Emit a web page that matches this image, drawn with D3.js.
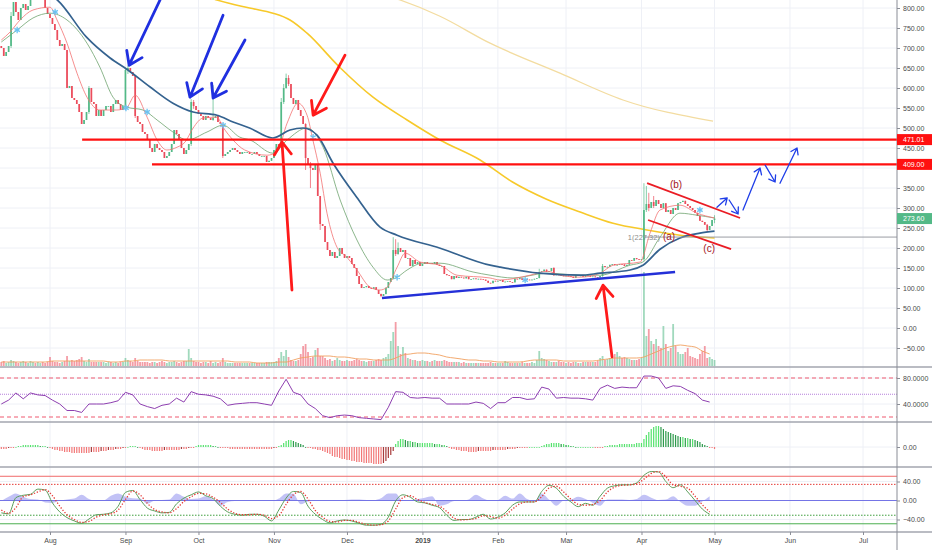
<!DOCTYPE html>
<html>
<head>
<meta charset="utf-8">
<script src="https://cdn.jsdelivr.net/npm/d3@7"></script>
<style>
body { margin: 0; background: #fff; }
svg { display: block; font-family: "Liberation Sans", Arial, sans-serif; }
</style>
</head>
<body>
<svg id="chart" width="932" height="550"></svg>
<script>
// daily closes, one per day from 12 Jul 2018 (day 0) to 1 May 2019 (day 293)
var closes = [
  700,680,690,705,780,815,790,770,800,810,795,805,840,850,820,830,830,825,800,785,
  775,760,745,720,705,710,695,600,605,575,570,560,540,510,520,540,600,565,560,530,545,530,545,555,555,540,560,570,560,545,555,
  645,650,640,630,530,515,510,490,485,470,450,440,460,450,445,440,425,430,440,460,495,485,470,450,435,445,460,565,555,545,
  535,530,520,530,525,520,525,530,515,510,430,435,440,445,450,445,440,435,440,440,440,435,435,440,435,430,430,430,415,418,425,
  445,460,455,565,600,625,610,575,560,570,545,530,510,425,410,400,395,410,330,260,255,215,195,180,190,175,180,200,185,175,
  180,175,160,150,130,110,100,102,105,100,98,102,95,85,80,85,100,115,125,195,185,200,190,195,175,175,155,170,160,165,155,
  160,165,160,162,160,165,158,155,155,135,132,130,122,130,125,128,126,124,128,122,122,124,122,123,122,121,118,113,112,118,117,
  118,120,115,116,117,115,114,123,122,125,120,122,121,120,121,123,125,140,142,146,140,142,150,132,135,132,131,130,
  131,130,128,125,132,131,131,128,132,131,128,129,127,126,130,155,152,153,158,160,157,158,160,159,155,158,170,168,175,172,170,
  172,295,310,300,315,305,320,310,300,312,290,295,285,300,295,312,315,318,310,305,300,295,288,280,268,265,258,245,255,270,
  273.6
];
var firstOpen = 705;

// notable wicks: [day, high, low]
var wicks = [
  [4,790,700],[13,860,830],[36,605,535],[51,650,545],[52,656,635],[55,632,525],[78,572,455],[79,570,548],
  [87,607,518],[91,512,425],[115,575,452],[116,610,560],[117,636,598],[118,632,605],[125,512,395],[127,415,350],
  [131,330,245],[156,86,77],[158,102,84],[161,227,122],[162,222,180],[163,214,183],[221,148,124],[227,152,130],
  [247,160,128],[264,362,168],[265,355,290],[266,338,292],[268,330,300],[290,260,240],[293,282,262]
];

// daily volume (arbitrary units)
var volume = [
  4,5,3,4,6,5,4,3,4,5,4,3,5,4,3,4,3,4,3,4,
  9,5,4,4,3,4,5,10,5,6,5,6,7,9,5,4,7,4,4,4,
  4,4,4,3,4,4,3,4,3,4,4,8,6,5,4,8,5,4,4,4,
  4,3,4,4,3,4,5,4,3,4,4,5,4,3,4,5,5,17,8,5,
  4,4,3,4,4,3,5,3,4,3,4,8,4,3,3,3,3,3,3,3,
  3,3,3,3,3,3,3,3,3,4,4,4,4,5,8,14,10,16,9,6,
  5,5,6,12,20,22,14,8,9,16,18,10,10,8,6,7,5,6,8,6,
  5,5,6,5,5,6,7,6,5,5,4,5,5,5,6,7,6,8,9,12,
  25,34,44,20,12,19,13,8,7,6,6,5,5,6,5,5,4,5,6,5,
  5,5,6,5,4,4,4,4,4,3,4,3,3,3,3,3,3,3,3,3,
  3,4,3,3,3,3,3,5,4,3,3,3,3,3,4,3,3,3,4,3,
  6,15,8,7,6,5,4,4,4,5,4,4,3,4,3,4,4,3,3,4,
  4,4,4,4,4,5,8,10,6,7,8,9,12,14,10,8,9,8,7,6,
  6,6,7,8,94,30,37,25,22,27,20,18,40,22,15,18,42,20,14,12,
  12,14,18,10,9,8,7,12,15,20,8,9,7,6
];

// daily MACD histogram
var macdHist = [
  -2,-2,-2,-1,-1,-1,0,1,
  1,2,2,2,2,2,2,2,1,1,1,0,
  -1,-2,-3,-3,-4,-4,-5,-5,-5,-6,-6,-6,-6,
  -6,-6,-6,-6,-5,-5,-5,
  -5,-4,-4,-4,-3,-3,-3,-2,-2,-2,-1,-1,
  0,1,1,1,0,
  -1,-2,-3,-3,-3,-4,-4,-4,-4,-4,-3,-3,-3,-3,-3,-3,-3,-2,-2,-2,-1,-1,-1,
  1,2,2,2,2,2,2,1,1,
  0,-1,-1,-1,-1,
  -2,-2,-2,-2,-2,-2,-2,-2,-2,-2,-2,-2,-2,-2,-2,-2,-2,-2,-1,-1,
  1,2,4,6,7,7,6,5,4,3,2,
  0,-1,-1,-2,-2,-3,-3,
  -4,-5,-6,-7,-9,-10,-10,-11,-12,-12,-13,-13,-14,-14,-15,-15,-15,-16,-16,-16,-16,-17,-17,-17,-17,-16,-14,-11,-8,-4,
  3,6,8,8,7,6,6,5,5,4,4,4,4,4,4,4,3,3,3,2,2,1,
  -1,-2,-2,-3,
  -3,-4,-4,-4,-5,-5,-5,-5,-4,-4,-4,-4,-4,-4,-3,-3,-3,-3,-3,-3,-2,-2,-2,-2,-1,-1,
  -1,-1,-1,0,0,0,0,0,
  1,2,3,3,4,4,4,4,3,3,2,2,1,1,
  0,0,0,0,0,0,0,0,
  -1,-1,-1,-1,
  1,1,2,2,2,2,3,3,3,3,3,3,3,4,4,
  4,8,12,15,18,20,21,21,20,
  18,16,15,14,13,
  12,11,10,10,9,9,8,8,
  7,6,5,3,2,1,
  -1,-1,-2
];

// indicators read every 3 days (sample k is day 3k)
var rsi = [
  40,46,57,48,57,54,53,46,40,30, 30,27,40,40,40,42,45,58,54,40,
  36,33,38,40,49,43,59,55,54,52, 48,38,40,41,42,42,40,38,60,78,
  58,54,40,33,22,19,22,23,22,19, 18,17,16,35,59,58,50,49,50,49,
  49,40,40,40,40,43,41,33,42,42, 50,50,47,48,66,63,49,50,49,49,
  48,46,64,69,64,66,65,65,83,83, 80,64,68,67,61,56,46,43
];
var oscMain = [
  -26,-28,6,11,13,24,22,-5,-24,-36, -43,-48,-39,-30,-29,-26,-12,17,21,2,
  -16,-22,-26,-25,-7,5,12,18,10,4, -12,-24,-29,-31,-29,-29,-33,-43,-20,5,
  19,17,-12,-29,-40,-47,-43,-41,-43,-48, -52,-52,-50,-35,-1,12,7,-3,-5,-10,
  -15,-31,-42,-40,-40,-35,-29,-39,-35,-26, -10,-3,-3,-3,19,32,26,9,-3,-13,
  -6,-10,9,26,31,33,33,37,53,61, 60,40,27,33,18,0,-18,-29
];
var oscSignal = [
  -20,-27,-15,8,12,18,23,10,-12,-30, -40,-46,-44,-35,-30,-28,-20,2,20,12,
  -6,-19,-24,-26,-17,-2,8,15,14,7, -4,-18,-27,-30,-30,-29,-31,-38,-32,-8,
  12,19,3,-21,-35,-44,-45,-42,-42,-46, -50,-52,-51,-43,-18,6,10,2,-4,-8,
  -12,-23,-37,-41,-40,-38,-32,-34,-37,-31, -18,-7,-3,-3,8,26,30,18,3,-8,
  -10,-8,0,18,28,32,33,35,45,57, 61,50,33,30,26,9,-9,-24
];
var oscWave = [
  -1,8,15,8,3,2,-4,-5,0,2, 4,12,3,-1,0,10,15,8,5,4,
  -7,0,1,2,15,8,3,4,9,2, -11,-3,-1,-1,0,-1,-1,-1,4,15,
  14,-8,-2,-1,-1,0,1,1,2,2, 1,1,5,15,15,-1,0,3,6,9,
  -11,-8,-1,-1,2,12,4,-1,1,10, 4,15,3,-1,15,2,-11,0,2,8,
  3,-5,-11,2,2,2,1,3,12,6, 1,2,9,-3,-11,-11,-2,9
];
var volAvg = [
  4,4,4,4,4,4,4,5,5,5, 5,5,5,5,5,4,4,5,5,6,
  6,6,6,5,5,5,5,5,5,5, 5,5,4,4,4,3,3,3,4,4,
  6,8,9,10,10,10,9,9,8,7, 7,6,6,6,8,11,12,13,13,12,
  11,9,8,7,6,6,5,5,4,4, 4,4,5,6,6,6,6,5,5,5,
  5,5,6,7,8,8,8,8,9,12, 15,18,20,21,20,19,15,12
];

// moving averages: [day, price]
var maFast = [[0,720],[3.6,740],[7.7,770],[13,795],[20,802],[22.9,770],[27,712],[31.1,637],[35.2,577],[40.5,545],
  [47.5,545],[51.6,552],[55,582],[59.9,527],[64,470],[68,445],[72.2,452],[75.5,465],[78.8,500],[82.9,525],[88.6,527],
  [91.1,502],[95.2,470],[100,445],[109.2,432],[113.3,440],[117.4,512],[121.9,562],[125.6,532],[128,470],[131,387],
  [133.8,287],[137.9,202],[142,177],[146.1,145],[151.5,102],[155.6,95],[158.5,102],[162.6,152],[165.9,187],[172,165],
  [180.2,157],[187.2,132],[200.8,125],[204.9,120],[217.2,132],[224.2,142],[229.5,132],[237.8,127],[246,137],[251.3,157],
  [262.4,165],[266.5,237],[270.6,295],[278.8,307],[285.8,287],[293,275]];
var maMid = [[0,715],[6.5,745],[13,775],[20,787],[27,770],[35.2,712],[40.5,652],[45.9,577],[51.6,552],[58.2,545],
  [64,520],[70.5,490],[76.3,470],[84.5,490],[91.1,507],[98,477],[102.2,470],[111.6,437],[117.4,470],[125.6,500],
  [132.2,452],[139.2,320],[146.1,220],[152.7,152],[158.5,120],[162.6,127],[166.7,145],[173.2,162],[180.2,162],
  [193.8,140],[200.8,132],[210.2,125],[224.2,137],[237.8,132],[246,132],[258.3,157],[263.6,165],[270.6,227],
  [278.8,287],[285.8,282],[293,275]];
var maSlow = [[0,880],[12,850],[23,820],[35,727],[44.7,675],[52,645],[61,603],[70.5,562],[78.8,540],[88.6,532],
  [95.2,515],[102,500],[111.6,475],[118.6,495],[124,500],[129.7,482],[136.3,412],[146,327],[155.6,252],[162.6,232],
  [180,200],[200.8,157],[205,152],[221,137],[237.8,132],[246,137],[258.3,145],[263.6,157],[270.6,197],[278.8,225],
  [287,237],[293,242]];
var ma200 = [[83.7,830],[88.6,820],[102,800],[111.6,787],[118.6,770],[125.6,737],[139,652],[152.7,577],[166.7,520],
  [180.2,470],[196.7,420],[210,365],[224,322],[237.8,290],[251.3,262],[265.3,245],[278.8,232],[293,225]];
var maLong = [[150,845],[163.8,820],[180,780],[200.8,712],[229.5,637],[255.4,570],[292.4,517]];
var crossMarks = [[6.5,745],[22.1,790],[51.2,550],[59.9,540],[91.1,507],[128.1,477],[162.6,127],[215.2,120],[287,295]];

// drawings: [day, price]
var blueArrows = [[[65.2,820],[52.5,657]],[[91.1,782],[77.5,577]],[[100.1,720],[87,575]]];
var redArrows = [[[119.4,95],[115.3,465]],[[141.2,682],[128.1,532]],[[250.9,-72],[247.2,107]]];
var levels = [{price: 471.01, from: 33.2}, {price: 409.00, from: 61.9}];
var supportLine = [[156.4,75],[276.8,140]];
var channelTop = [[265.3,362],[303.5,275]];
var channelBottom = [[265.7,270],[299.8,197]];
var pathArrows = [[[294,302],[298.2,325]],[[299,320],[302.7,285]],[[304.7,295],[311.7,400]],
  [[313.8,407],[317.9,365]],[[319.9,362],[326.9,450]]];
var waveLabels = [{t: "(b)", d: 277.2, p: 350}, {t: "(a)", d: 274.3, p: 220}, {t: "(c)", d: 290.8, p: 190}];
var measure = {price: 227.32, from: 264};

var priceTicks = d3.range(-50, 801, 50);
var priceLabels = priceTicks.filter(function(v) { return v !== 400; }); // 400 sits under the 409 tag
var lastPrice = 273.60;

// ---------- layout
var AX = 897;
var panels = {main: [0, 367], rsi: [367, 422], macd: [422, 467], osc: [467, 532]};
var DAY = 864e5, T0 = Date.UTC(2018, 6, 12);
function dt(d) { return new Date(T0 + d * DAY); }

var x = d3.scaleUtc()
  .domain([new Date(Date.UTC(2018, 7, 1)), new Date(Date.UTC(2019, 6, 1))])
  .range([50, 863]);
function xd(d) { return x(dt(d)); }
var y = d3.scaleLinear().domain([150, 800]).range([268, 8]);
var yVol = d3.scaleLinear().domain([0, 100]).range([366, 266]);
var yRsi = d3.scaleLinear().domain([40, 80]).range([404, 378]);
var yMacd = d3.scaleLinear().domain([-20, 20]).range([467, 427]);
var yOsc = d3.scaleLinear().domain([-40, 40]).range([519.5, 481.5]);

var svg = d3.select("#chart");
var defs = svg.append("defs");
Object.keys(panels).forEach(function(k) {
  defs.append("clipPath").attr("id", "clip-" + k)
    .append("rect").attr("x", 0).attr("y", panels[k][0])
    .attr("width", AX).attr("height", panels[k][1] - panels[k][0]);
});

// grid
var months = d3.utcMonth.range(new Date(Date.UTC(2018, 7, 1)), new Date(Date.UTC(2019, 6, 2)));
var grid = svg.append("g").attr("stroke", "#eef0f6").attr("stroke-width", 1);
grid.selectAll(".gv").data(months).enter().append("line")
  .attr("x1", function(d) { return x(d); }).attr("x2", function(d) { return x(d); })
  .attr("y1", 0).attr("y2", 532);
grid.selectAll(".gh").data(priceTicks).enter().append("line")
  .attr("x1", 0).attr("x2", AX)
  .attr("y1", function(d) { return y(d); }).attr("y2", function(d) { return y(d); });
[yRsi(40), yRsi(80), yMacd(0), yOsc(40), yOsc(-40)].forEach(function(v) {
  grid.append("line").attr("x1", 0).attr("x2", AX).attr("y1", v).attr("y2", v);
});

// ---------- main panel
var main = svg.append("g").attr("clip-path", "url(#clip-main)");
var up = "#53b987", down = "#eb4d5c";

var candles = closes.map(function(c, i) {
  var o = i ? closes[i - 1] : firstOpen;
  return {d: i, o: o, c: c, h: Math.max(o, c), l: Math.min(o, c), v: volume[i]};
});
wicks.forEach(function(w) {
  var k = candles[w[0]];
  k.h = Math.max(k.h, w[1]);
  k.l = Math.min(k.l, w[2]);
});

// volume
main.selectAll(".vol").data(candles).enter().append("rect")
  .attr("x", function(k) { return xd(k.d) - 0.9; })
  .attr("width", 1.8)
  .attr("y", function(k) { return yVol(k.v); })
  .attr("height", function(k) { return yVol(0) - yVol(k.v); })
  .attr("fill", function(k) { return k.c >= k.o ? up : down; })
  .attr("opacity", 0.55);
main.append("path").datum(volAvg)
  .attr("fill", "none").attr("stroke", "#f0a060").attr("stroke-width", 0.9)
  .attr("d", d3.line().x(function(v, k) { return xd(3 * k); }).y(function(v) { return yVol(v); }).curve(d3.curveMonotoneX));

// long averages
var maLine = d3.line().x(function(p) { return xd(p[0]); }).y(function(p) { return y(p[1]); }).curve(d3.curveMonotoneX);
main.append("path").datum(maLong).attr("fill", "none").attr("stroke", "#f3dca0").attr("stroke-width", 1.3).attr("d", maLine);
main.append("path").datum(ma200).attr("fill", "none").attr("stroke", "#f7c92a").attr("stroke-width", 1.6).attr("d", maLine);

// candles
main.selectAll(".wick").data(candles).enter().append("line")
  .attr("x1", function(k) { return xd(k.d); }).attr("x2", function(k) { return xd(k.d); })
  .attr("y1", function(k) { return y(k.h); }).attr("y2", function(k) { return y(k.l); })
  .attr("stroke", function(k) { return k.c >= k.o ? up : down; }).attr("stroke-width", 0.7);
main.selectAll(".body").data(candles).enter().append("rect")
  .attr("x", function(k) { return xd(k.d) - 0.85; })
  .attr("width", 1.7)
  .attr("y", function(k) { return y(Math.max(k.o, k.c)); })
  .attr("height", function(k) { return Math.max(0.8, Math.abs(y(k.o) - y(k.c))); })
  .attr("fill", function(k) { return k.c >= k.o ? up : down; });

main.append("path").datum(maMid).attr("fill", "none").attr("stroke", "#6fa36f").attr("stroke-width", 0.8).attr("d", maLine);
main.append("path").datum(maFast).attr("fill", "none").attr("stroke", "#f27272").attr("stroke-width", 0.8).attr("d", maLine);
main.append("path").datum(maSlow).attr("fill", "none").attr("stroke", "#34628f").attr("stroke-width", 1.7).attr("d", maLine);

main.selectAll(".star").data(crossMarks).enter().append("path")
  .attr("transform", function(p) { return "translate(" + xd(p[0]) + "," + y(p[1]) + ")"; })
  .attr("d", d3.symbol().type(d3.symbolAsterisk).size(28))
  .attr("fill", "none").attr("stroke", "#6cc3f2").attr("stroke-width", 1.3);

// drawings
function arrow(g, seg, color, width, head) {
  var x1 = xd(seg[0][0]), y1 = y(seg[0][1]), x2 = xd(seg[1][0]), y2 = y(seg[1][1]);
  var a = Math.atan2(y1 - y2, x1 - x2);
  var path = d3.path();
  path.moveTo(x1, y1); path.lineTo(x2, y2);
  path.moveTo(x2 + head * Math.cos(a - 0.6), y2 + head * Math.sin(a - 0.6));
  path.lineTo(x2, y2);
  path.lineTo(x2 + head * Math.cos(a + 0.6), y2 + head * Math.sin(a + 0.6));
  g.append("path").attr("d", path.toString()).attr("fill", "none")
    .attr("stroke", color).attr("stroke-width", width)
    .attr("stroke-linecap", "round").attr("stroke-linejoin", "round");
}
var draw = svg.append("g").attr("clip-path", "url(#clip-main)");
levels.forEach(function(l) {
  draw.append("line").attr("x1", xd(l.from)).attr("x2", AX)
    .attr("y1", y(l.price)).attr("y2", y(l.price))
    .attr("stroke", "#ff1010").attr("stroke-width", 2.4);
});
draw.append("line").attr("x1", xd(measure.from)).attr("x2", AX)
  .attr("y1", y(measure.price)).attr("y2", y(measure.price))
  .attr("stroke", "#9a9ca3").attr("stroke-width", 1);
draw.append("text").attr("x", xd(measure.from) + 16).attr("y", y(measure.price) + 3)
  .attr("text-anchor", "end").attr("font-size", 7.5).attr("fill", "#8c8c8c").text("1(227.32)");

[supportLine].forEach(function(s) {
  draw.append("line").attr("x1", xd(s[0][0])).attr("y1", y(s[0][1]))
    .attr("x2", xd(s[1][0])).attr("y2", y(s[1][1]))
    .attr("stroke", "#2430d8").attr("stroke-width", 2.4);
});
[channelTop, channelBottom].forEach(function(s) {
  draw.append("line").attr("x1", xd(s[0][0])).attr("y1", y(s[0][1]))
    .attr("x2", xd(s[1][0])).attr("y2", y(s[1][1]))
    .attr("stroke", "#ea1c24").attr("stroke-width", 1.8);
});
waveLabels.forEach(function(l) {
  draw.append("text").attr("x", xd(l.d)).attr("y", y(l.p))
    .attr("text-anchor", "middle").attr("font-size", 10).attr("fill", "#a3141c").text(l.t);
});
blueArrows.forEach(function(s) { arrow(draw, s, "#1f2fe0", 2.8, 15); });
redArrows.forEach(function(s) { arrow(draw, s, "#ff1a1a", 2.8, 15); });
pathArrows.forEach(function(s) { arrow(draw, s, "#1f3ee8", 1.3, 7); });

// ---------- RSI
var rsiG = svg.append("g").attr("clip-path", "url(#clip-rsi)");
[[80, "4,3", "#ef5b70", 1.2], [20, "4,3", "#ef5b70", 1.2], [55, "1,1", "#b67fdc", 1.2]].forEach(function(l) {
  rsiG.append("line").attr("x1", 0).attr("x2", AX).attr("y1", yRsi(l[0])).attr("y2", yRsi(l[0]))
    .attr("stroke", l[2]).attr("stroke-width", l[3]).attr("stroke-dasharray", l[1]);
});
rsiG.append("path").datum(rsi).attr("fill", "none").attr("stroke", "#8e3fb0").attr("stroke-width", 1)
  .attr("d", d3.line().x(function(v, k) { return xd(3 * k); }).y(function(v) { return yRsi(v); }));

// ---------- MACD histogram
var macdG = svg.append("g").attr("clip-path", "url(#clip-macd)");
macdG.selectAll(".mh").data(macdHist).enter().append("rect")
  .attr("x", function(v, i) { return xd(i) - 0.6; })
  .attr("width", 1.2)
  .attr("y", function(v) { return Math.min(yMacd(v), yMacd(0)); })
  .attr("height", function(v) { return Math.max(0.8, Math.abs(yMacd(v) - yMacd(0))); })
  .attr("fill", function(v, i) {
    var prev = i ? macdHist[i - 1] : v;
    if (v >= 0) return v >= prev ? "#55e36d" : "#2e9a4c";
    return v <= prev ? "#f27878" : "#a83b3b";
  });

// ---------- oscillator
var oscG = svg.append("g").attr("clip-path", "url(#clip-osc)");
[[51, null, "#f06a6a"], [34, "1.5,1.5", "#e53935"], [-31, "1.5,1.5", "#3f9e3f"], [-49, null, "#4caf50"]].forEach(function(l) {
  oscG.append("line").attr("x1", 0).attr("x2", AX).attr("y1", yOsc(l[0])).attr("y2", yOsc(l[0]))
    .attr("stroke", l[2]).attr("stroke-width", 1).attr("stroke-dasharray", l[1]);
});
oscG.append("path").datum(oscWave).attr("fill", "#b7b7f4").attr("opacity", 0.85)
  .attr("d", d3.area().x(function(v, k) { return xd(3 * k); }).y0(yOsc(0)).y1(function(v) { return yOsc(v); }).curve(d3.curveMonotoneX));
oscG.append("line").attr("x1", 0).attr("x2", AX).attr("y1", yOsc(0)).attr("y2", yOsc(0))
  .attr("stroke", "#7474e6").attr("stroke-width", 1);
var oscLine = d3.line().x(function(v, k) { return xd(3 * k); }).y(function(v) { return yOsc(v); }).curve(d3.curveMonotoneX);
oscG.append("path").datum(oscMain).attr("fill", "none").attr("stroke", "#5b9e5b").attr("stroke-width", 1).attr("d", oscLine);
oscG.append("path").datum(oscSignal).attr("fill", "none").attr("stroke", "#e53935").attr("stroke-width", 1.3)
  .attr("stroke-dasharray", "1.3,1.7").attr("d", oscLine);

// ---------- separators and axes
var sep = svg.append("g").attr("stroke", "#a3a6af").attr("stroke-width", 1.5);
[367, 422, 467, 532].forEach(function(v) {
  sep.append("line").attr("x1", 0).attr("x2", 932).attr("y1", v).attr("y2", v);
});
svg.append("line").attr("x1", AX).attr("x2", AX).attr("y1", 0).attr("y2", 550)
  .attr("stroke", "#8a8d96").attr("stroke-width", 1);

function rightAxis(scale, ticks, fmt) {
  var g = svg.append("g").attr("transform", "translate(" + AX + ",0)")
    .call(d3.axisRight(scale).tickValues(ticks).tickFormat(d3.format(fmt)).tickSize(3).tickPadding(3));
  g.select(".domain").remove();
  g.selectAll("line").attr("stroke", "#8a8d96");
  g.selectAll("text").attr("font-size", 7).attr("fill", "#4a4a4a").attr("font-family", "Liberation Sans, Arial, sans-serif");
}
rightAxis(y, priceLabels, ".2f");
rightAxis(yRsi, [80, 40], ".4f");
rightAxis(yMacd, [0], ".2f");
rightAxis(yOsc, [40, 0, -40], ".2f");

var xAxis = svg.append("g").attr("transform", "translate(0,532)")
  .call(d3.axisBottom(x).tickValues(months).tickSize(3).tickPadding(3)
    .tickFormat(function(d) { return d.getUTCMonth() === 0 ? d3.utcFormat("%Y")(d) : d3.utcFormat("%b")(d); }));
xAxis.select(".domain").remove();
xAxis.selectAll("line").attr("stroke", "#8a8d96");
xAxis.selectAll("text").attr("font-size", 7).attr("fill", "#4a4a4a").attr("font-family", "Liberation Sans, Arial, sans-serif")
  .attr("font-weight", function(d) { return d.getUTCMonth() === 0 ? "bold" : null; });

// price tags
function tag(price, color) {
  var g = svg.append("g");
  g.append("rect").attr("x", AX).attr("y", y(price) - 5.5).attr("width", 932 - AX).attr("height", 11).attr("fill", color);
  g.append("text").attr("x", AX + 6).attr("y", y(price) + 2.5).attr("font-size", 7).attr("fill", "#fff")
    .text(d3.format(".2f")(price));
}
levels.forEach(function(l) { tag(l.price, "#ff1010"); });
tag(lastPrice, up);
</script>
</body>
</html>
